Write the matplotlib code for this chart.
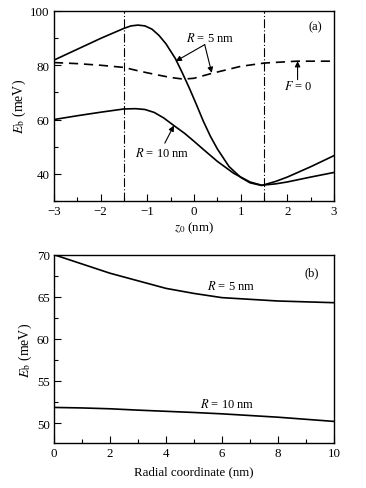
import matplotlib
matplotlib.use("Agg")
import matplotlib.pyplot as plt
from matplotlib.ticker import MultipleLocator

plt.rcParams["font.family"] = ["Liberation Serif", "DejaVu Serif"]
plt.rcParams["mathtext.fontset"] = "stix"
plt.rcParams["font.size"] = 9.3

# panel (a): binding energy vs impurity position z0
z0_r5 = [-3, -2.5, -2, -1.5, -1.35, -1.2, -1.05, -0.9, -0.75, -0.6, -0.4, -0.25,
         -0.1, 0.05, 0.2, 0.35, 0.5, 0.75, 1.0, 1.2, 1.45, 1.75, 2.0, 2.5, 3.0]
eb_r5 = [81.9, 85.9, 89.9, 93.6, 94.5, 94.8, 94.5, 93.3, 91.0, 87.9, 82.5, 77.2,
         71.6, 65.6, 59.4, 53.9, 49.2, 42.7, 38.7, 36.7, 35.7, 37.2, 38.8, 42.6, 46.7]
z0_r10 = [-3, -2.5, -2, -1.5, -1.25, -1.05, -0.85, -0.65, -0.44, -0.2, 0, 0.2,
          0.5, 0.85, 1.2, 1.45, 1.75, 2.0, 2.5, 3.0]
eb_r10 = [60.0, 61.4, 62.7, 63.9, 64.0, 63.7, 62.6, 60.6, 57.9, 54.9, 52.0, 49.0,
          44.6, 40.2, 37.0, 35.8, 36.3, 37.0, 38.8, 40.5]
z0_f0 = [-3, -2.5, -2, -1.5, -1.16, -0.8, -0.5, -0.23, 0, 0.38, 1.0, 1.5, 2.2, 3.0]
eb_f0 = [81.0, 80.6, 80.0, 79.2, 77.8, 76.5, 75.5, 74.9, 75.2, 77.0, 79.6, 80.8,
         81.5, 81.5]
well_edges = [-1.5, 1.5]

# panel (b): binding energy vs radial coordinate
rho = [0, 1, 2, 3, 4, 5, 6, 7, 8, 9, 10]
eb_rho_r5 = [70.0, 68.9, 67.8, 66.9, 66.0, 65.4, 64.9, 64.7, 64.5, 64.4, 64.3]
eb_rho_r10 = [51.86, 51.8, 51.7, 51.54, 51.4, 51.26, 51.1, 50.9, 50.7, 50.45, 50.2]

fig = plt.figure(figsize=(3.66, 4.89), dpi=100)
ax1 = fig.add_axes([0.1475, 0.587, 0.765, 0.3885])
ax2 = fig.add_axes([0.1475, 0.0914, 0.765, 0.3857])

lw = 1.2
ax1.plot(z0_r5, eb_r5, color="black", linewidth=lw)
ax1.plot(z0_r10, eb_r10, color="black", linewidth=lw)
ax1.plot(z0_f0, eb_f0, color="black", linewidth=lw, linestyle=(0, (5.5, 3.5)))
for xe in well_edges:
    ax1.axvline(xe, color="black", linewidth=0.8, linestyle=(0, (8, 2, 1, 2)))

ax1.set_xlim(-3, 3)
ax1.set_ylim(30, 100)
ax1.xaxis.set_minor_locator(MultipleLocator(0.5))
ax1.yaxis.set_major_locator(MultipleLocator(20))
ax1.yaxis.set_minor_locator(MultipleLocator(10))
ax1.set_xticks([-3, -2, -1, 0, 1, 2, 3])
ax1.set_xticklabels(["\u22123", "\u22122", "\u22121", "0", "1", "2", "3"])
ax1.set_yticks([40, 60, 80, 100])
ax1.set_xlabel("$z_0$ (nm)", labelpad=2)
ax1.set_ylabel("$E_\\mathrm{b}$ (meV)", labelpad=2, fontsize=10)

arrow = dict(arrowstyle="-|>", color="black", linewidth=0.8,
             mutation_scale=8, shrinkA=0, shrinkB=0)
ax1.text(0.35, 90.2, "$R$ = 5 nm", ha="center", va="center", fontsize=9)
ax1.annotate("", xy=(-0.39, 81.5), xytext=(0.23, 87.6), arrowprops=arrow)
ax1.annotate("", xy=(0.38, 77.2), xytext=(0.23, 87.6), arrowprops=arrow)
ax1.text(2.23, 72.6, "$F$ = 0", ha="center", va="center", fontsize=9)
ax1.annotate("", xy=(2.22, 81.5), xytext=(2.22, 74.7), arrowprops=arrow)
ax1.text(-0.69, 47.8, "$R$ = 10 nm", ha="center", va="center", fontsize=9)
ax1.annotate("", xy=(-0.43, 57.8), xytext=(-0.625, 51.3), arrowprops=arrow)
ax1.text(2.59, 94.2, "(a)", ha="center", va="center", fontsize=9)

ax2.plot(rho, eb_rho_r5, color="black", linewidth=lw)
ax2.plot(rho, eb_rho_r10, color="black", linewidth=lw)
ax2.set_xlim(0, 10)
ax2.set_ylim(47.6, 70)
ax2.xaxis.set_major_locator(MultipleLocator(2))
ax2.xaxis.set_minor_locator(MultipleLocator(1))
ax2.yaxis.set_major_locator(MultipleLocator(5))
ax2.yaxis.set_minor_locator(MultipleLocator(2.5))
ax2.set_xlabel("Radial coordinate (nm)", labelpad=4)
ax2.set_ylabel("$E_\\mathrm{b}$ (meV)", labelpad=2, fontsize=10)
ax2.text(6.34, 66.3, "$R$ = 5 nm", ha="center", va="center", fontsize=9)
ax2.text(6.2, 52.3, "$R$ = 10 nm", ha="center", va="center", fontsize=9)
ax2.text(9.2, 67.9, "(b)", ha="center", va="center", fontsize=9)

for ax in (ax1, ax2):
    ax.tick_params(which="both", direction="in", top=False, right=False, pad=3)
    ax.tick_params(which="major", length=5, width=0.8)
    ax.tick_params(which="minor", length=3, width=0.8)
    for s in ax.spines.values():
        s.set_linewidth(1.0)

fig.savefig("out.png", dpi=100)
